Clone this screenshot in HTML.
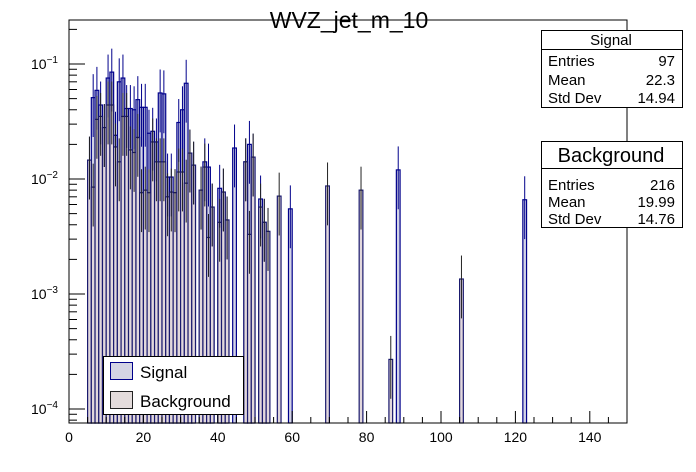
<!DOCTYPE html>
<html><head><meta charset="utf-8"><style>
body{margin:0;background:#fff;}
svg{display:block;font-family:"Liberation Sans",Arial,sans-serif;}
</style></head><body>
<svg id="c" width="696" height="472" xmlns="http://www.w3.org/2000/svg">
<rect width="696" height="472" fill="#fff"/>
<text x="349" y="28" text-anchor="middle" font-size="23">WVZ_jet_m_10</text>
<g id="bars"></g>
<g id="axes"></g>
<rect x="69" y="20" width="558" height="403" fill="none" stroke="#000" stroke-width="1"/>
<g>
<rect x="541.5" y="30.5" width="141" height="77" fill="#fff" stroke="#000"/>
<line x1="541.5" y1="49.5" x2="682.5" y2="49.5" stroke="#000"/>
<text x="611" y="45" text-anchor="middle" font-size="15">Signal</text>
<text x="548" y="66" font-size="15">Entries</text><text x="675" y="66" text-anchor="end" font-size="15">97</text>
<text x="548" y="85" font-size="15">Mean</text><text x="675" y="85" text-anchor="end" font-size="15">22.3</text>
<text x="548" y="103" font-size="15">Std Dev</text><text x="675" y="103" text-anchor="end" font-size="15">14.94</text>
</g>
<g>
<rect x="541.5" y="141.5" width="141" height="86" fill="#fff" stroke="#000"/>
<line x1="541.5" y1="168.5" x2="682.5" y2="168.5" stroke="#000"/>
<text x="611" y="162" text-anchor="middle" font-size="20">Background</text>
<text x="548" y="190" font-size="15">Entries</text><text x="675" y="190" text-anchor="end" font-size="15">216</text>
<text x="548" y="207" font-size="15">Mean</text><text x="675" y="207" text-anchor="end" font-size="15">19.99</text>
<text x="548" y="224" font-size="15">Std Dev</text><text x="675" y="224" text-anchor="end" font-size="15">14.76</text>
</g>
<g>
<rect x="103.5" y="356.5" width="140" height="58" fill="#fff" stroke="#000"/>
<rect x="110.5" y="362.5" width="22" height="17" fill="#d4d4e4" stroke="#00008b"/>
<text x="140" y="378" font-size="17">Signal</text>
<rect x="110.5" y="391.5" width="22" height="17" fill="#e4dcdc" stroke="#222"/>
<text x="140" y="407" font-size="17">Background</text>
</g>
</svg>
<script>
const xTicks=[0,20,40,60,80,100,120,140];
const yDecades=[-1,-2,-3,-4];
const sigBins=[5,6,7,8,9,10,11,12,13,14,15,16,17,18,19,20,21,22,23,24,25,26,27,28,29,30,31,32,33,35,36,37,38,40,41,42,44,47,48,49,51,52,53,59,88,122];
const sigVals=[0.0146,0.051,0.059,0.044,0.028,0.0755,0.085,0.024,0.070,0.0755,0.041,0.041,0.040,0.049,0.042,0.042,0.025,0.026,0.021,0.056,0.055,0.0104,0.0104,0.0076,0.031,0.040,0.068,0.0168,0.0132,0.008,0.0141,0.0127,0.0057,0.0083,0.0077,0.0044,0.0186,0.0141,0.020,0.0155,0.0067,0.0042,0.0035,0.0055,0.012,0.0066];
const bkgBins=[5,6,7,8,9,10,11,12,13,14,15,16,17,18,19,20,21,22,23,24,25,26,27,28,29,30,31,32,33,35,36,37,38,40,41,42,47,48,49,51,52,53,56,69,78,86,105];
const bkgVals=[0.0146,0.0085,0.033,0.035,0.028,0.044,0.044,0.019,0.0141,0.035,0.035,0.0179,0.017,0.023,0.0076,0.008,0.0076,0.021,0.0141,0.0141,0.0141,0.0070,0.0077,0.0076,0.0115,0.0115,0.0092,0.0168,0.0132,0.008,0.0127,0.0031,0.0057,0.0042,0.0077,0.0044,0.0141,0.0033,0.0155,0.0057,0.0042,0.0035,0.0071,0.0087,0.008,0.00027,0.00135];
const NS='http://www.w3.org/2000/svg';
const X0=69,X1=627,YB=423,YT=20;
const xs=v=>X0+(v/150)*(X1-X0);
const ys=v=>64-(Math.log10(v)+1)*115;
const bars=document.getElementById('bars'),axes=document.getElementById('axes');
function mk(t,a,p){const e=document.createElementNS(NS,t);for(const k in a)e.setAttribute(k,a[k]);(p||bars).appendChild(e);return e;}
function drawHist(bins,vals,fill,stroke,name){
 bins.forEach((b,i)=>{const y=Math.max(YT,ys(vals[i]));
  const r=mk('rect',{x:xs(b),y:y,width:xs(b+1)-xs(b),height:YB-y,fill:fill,stroke:stroke,'stroke-width':1.2});
  
  });
}
function drawErr(bins,vals,stroke,name){
 bins.forEach((b,i)=>{const v=vals[i];const cx=(xs(b)+xs(b+1))/2;
  const y1=Math.max(YT,ys(v*1.6)),y2=Math.min(YB,ys(v/2.2));
  const l=mk('line',{x1:cx,x2:cx,y1:y1,y2:y2,stroke:stroke,'stroke-width':1});
  
  });
}
drawHist(sigBins,sigVals,'#d2d3e6','#00008b','signal');
drawHist(bkgBins,bkgVals,'#e2d8dc','#1a1a6e','background');
drawErr(sigBins,sigVals,'#00008b','signal');
drawErr(bkgBins,bkgVals,'#222','background');
for(let v=0;v<=150;v+=5){const big=v%20===0;const t=mk('line',{x1:xs(v),x2:xs(v),y1:YB,y2:YB-(big?12:6),stroke:'#000'},axes);
 }
xTicks.forEach(v=>{const t=mk('text',{x:xs(v),y:442,'text-anchor':'middle','font-size':14},axes);t.textContent=v;
 });
for(let d=-5;d<=-1;d++){for(let m=1;m<10;m++){const v=m*Math.pow(10,d);const y=ys(v);if(y<YT||y>YB)continue;
 const t=mk('line',{x1:X0,x2:X0+(m===1?16:8),y1:y,y2:y,stroke:'#000'},axes);
 }}
yDecades.forEach(d=>{const y=ys(Math.pow(10,d));const t=mk('text',{x:58,y:y+5,'text-anchor':'end','font-size':14},axes);
 t.textContent='10';const s=mk('tspan',{dy:-6,'font-size':10},t);s.textContent=String(d).replace('-','\u2212');
 });
</script>
</body></html>
